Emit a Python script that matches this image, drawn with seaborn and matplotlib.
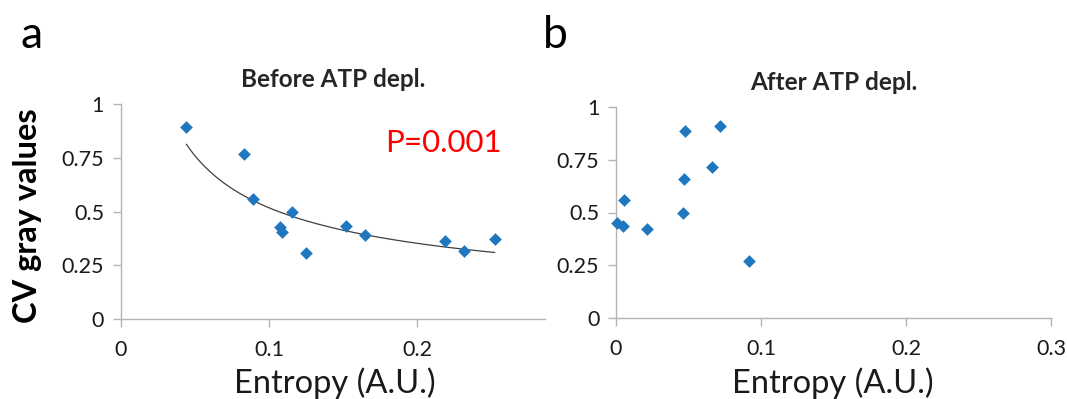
import numpy as np
import pandas as pd
import matplotlib
matplotlib.use("Agg")
import matplotlib.pyplot as plt
import seaborn as sns

# ---- data ----
before_entropy = [0.0443, 0.0834, 0.0893, 0.1158, 0.1077, 0.1088, 0.1252, 0.1518, 0.1651, 0.2188, 0.2314, 0.2524]
before_cv      = [0.895, 0.767, 0.559, 0.500, 0.429, 0.404, 0.307, 0.435, 0.390, 0.365, 0.319, 0.375]
after_entropy  = [0.0005, 0.0050, 0.0057, 0.0211, 0.0462, 0.0469, 0.0476, 0.0662, 0.0719, 0.0915]
after_cv       = [0.452, 0.438, 0.561, 0.422, 0.496, 0.658, 0.884, 0.716, 0.909, 0.272]

y_ticks = [0, 0.25, 0.5, 0.75, 1]
y_tick_labels = ["0", "0.25", "0.5", "0.75", "1"]
xa_ticks = [0, 0.1, 0.2]
xa_tick_labels = ["0", "0.1", "0.2"]
xb_ticks = [0, 0.1, 0.2, 0.3]
xb_tick_labels = ["0", "0.1", "0.2", "0.3"]

title_a = "Before ATP depl."
title_b = "After ATP depl."
xlabel = "Entropy (A.U.)"
ylabel = "CV gray values"
p_text = "P=0.001"

sns.set_theme(style="white")
plt.rcParams["font.family"] = ["Lato", "DejaVu Sans"]

W, H = 1067, 399
fig = plt.figure(figsize=(W / 100, H / 100), dpi=100)

def px(l, b, r, t):
    return [l / W, 1 - b / H, (r - l) / W, (b - t) / H]

ax_a = fig.add_axes(px(120.7, 319.3, 545, 104))
ax_b = fig.add_axes(px(616, 318.3, 1051, 106.7))

blue = "#1f77bf"
gray = "#b3b3b3"

df_a = pd.DataFrame({"entropy": before_entropy, "cv": before_cv})
df_b = pd.DataFrame({"entropy": after_entropy, "cv": after_cv})

sns.scatterplot(data=df_a, x="entropy", y="cv", marker="D", s=42, color=blue,
                linewidth=0, ax=ax_a, zorder=3, clip_on=False)
sns.scatterplot(data=df_b, x="entropy", y="cv", marker="D", s=42, color=blue,
                linewidth=0, ax=ax_b, zorder=3, clip_on=False)

# power-law trend line fitted to the "before" data
lx = np.log(np.array(before_entropy))
ly = np.log(np.array(before_cv))
bcoef, acoef = np.polyfit(lx, ly, 1)
xs = np.linspace(min(before_entropy), max(before_entropy), 200)
fit_df = pd.DataFrame({"entropy": xs, "cv": np.exp(acoef) * xs ** bcoef})
sns.lineplot(data=fit_df, x="entropy", y="cv", color="#404040", linewidth=0.9, ax=ax_a, zorder=2)

for ax, xt, xtl, xmax in [(ax_a, xa_ticks, xa_tick_labels, (545 - 120.7) / 1482),
                          (ax_b, xb_ticks, xb_tick_labels, 0.3)]:
    ax.set_xlim(0, xmax)
    ax.set_ylim(0, 1)
    ax.set_xticks(xt)
    ax.set_xticklabels(xtl)
    ax.set_yticks(y_ticks)
    ax.set_yticklabels(y_tick_labels)
    for s in ["top", "right"]:
        ax.spines[s].set_visible(False)
    for s in ["left", "bottom"]:
        ax.spines[s].set_color(gray)
        ax.spines[s].set_linewidth(1.0)
    ax.tick_params(axis="both", direction="out", length=6, width=1.0, color=gray,
                   labelsize=15.5, labelcolor="#1a1a1a", bottom=True, left=True)
    ax.tick_params(axis="x", pad=9)
    ax.tick_params(axis="y", pad=6)
    ax.set_xlabel("")
    ax.set_ylabel("")
    ax.patch.set_alpha(0)
    ax.grid(False)

ax_a.set_title(title_a, fontsize=17.5, fontweight="bold", pad=12)
ax_b.set_title(title_b, fontsize=17.5, fontweight="bold", pad=12)

fig.text(335 / W, 1 - 383 / H, xlabel, fontsize=23.5, ha="center", va="center", color="#1a1a1a")
fig.text(833 / W, 1 - 383 / H, xlabel, fontsize=23.5, ha="center", va="center", color="#1a1a1a")
fig.text(28 / W, 1 - 216 / H, ylabel, fontsize=23.5, fontweight="bold", rotation=90,
         ha="center", va="center", color="black")
fig.text(443 / W, 1 - 143 / H, p_text, fontsize=22.5, color="red", ha="center", va="center")
fig.text(32 / W, 1 - 35 / H, "a", fontsize=32, ha="center", va="center", color="black")
fig.text(555 / W, 1 - 35 / H, "b", fontsize=32, ha="center", va="center", color="black")

fig.savefig("out.png", dpi=100)
